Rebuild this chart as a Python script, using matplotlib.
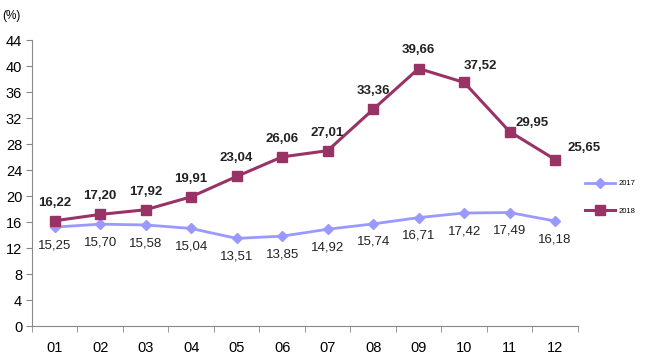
import matplotlib.pyplot as plt

plt.rcParams["font.family"] = ["Liberation Sans", "DejaVu Sans"]

# data
months = ["01", "02", "03", "04", "05", "06", "07", "08", "09", "10", "11", "12"]
s2017 = [15.25, 15.70, 15.58, 15.04, 13.51, 13.85, 14.92, 15.74, 16.71, 17.42, 17.49, 16.18]
s2018 = [16.22, 17.20, 17.92, 19.91, 23.04, 26.06, 27.01, 33.36, 39.66, 37.52, 29.95, 25.65]
yticks = list(range(0, 45, 4))

c2017 = "#9999ff"
c2018 = "#993366"

fig = plt.figure(figsize=(6.5, 3.6), dpi=100)
ax = fig.add_axes([0.049, 0.094, 0.84, 0.794])

x = list(range(len(months)))

ax.plot(x, s2017, color=c2017, marker="D", markersize=5, linewidth=2, label="2017")
ax.plot(x, s2018, color=c2018, marker="s", markersize=7.5, linewidth=2.2, label="2018")

# data labels
for i, v in enumerate(s2017):
    ax.annotate(f"{v:.2f}".replace(".", ","), (i, v), xytext=(0, -13),
                textcoords="offset points", ha="center", va="center", fontsize=9.5, color="#222222")

off2018 = [(0, 13)] * 9 + [(12, 11.5), (16.5, 6), (21, 8)]
for i, v in enumerate(s2018):
    ax.annotate(f"{v:.2f}".replace(".", ","), (i, v), xytext=off2018[i],
                textcoords="offset points", ha="center", va="center", fontsize=9.5,
                fontweight="bold", color="#222222")

ax.set_xlim(-0.5, len(months) - 0.5)
ax.set_ylim(0, 44)
ax.set_yticks(yticks)
ax.set_xticks(x)
ax.set_xticklabels(months)
ax.set_xticks([i - 0.5 for i in range(len(months) + 1)], minor=True)
ax.tick_params(axis="x", which="major", length=0, pad=11, labelsize=10.5)
ax.tick_params(axis="x", which="minor", length=4, color="#888888", direction="out")
ax.tick_params(axis="y", length=4, color="#888888", labelsize=10.5, pad=3)

for sp in ["top", "right"]:
    ax.spines[sp].set_visible(False)
for sp in ["left", "bottom"]:
    ax.spines[sp].set_color("#888888")

fig.text(0.003, 0.955, "(%)", fontsize=8.5, ha="left", va="center")

ax.legend(loc="center left", bbox_to_anchor=(1.0, 0.451), frameon=False, fontsize=5.5,
          handlelength=3.9, handletextpad=0.5, labelspacing=2.6)

fig.savefig("out.png", dpi=100)
